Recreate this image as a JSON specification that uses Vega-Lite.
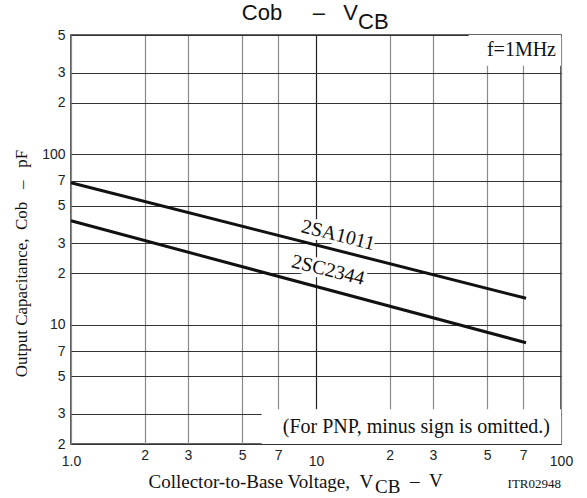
{
  "$schema": "https://vega.github.io/schema/vega-lite/v6.json",
  "width": 490,
  "height": 409,
  "autosize": {"type": "none"},
  "padding": {"left": 71, "top": 35, "right": 26, "bottom": 54},
  "background": "white",
  "config": {
    "view": {"stroke": "#333", "strokeWidth": 1.6},
    "axis": {
      "labelFont": "Liberation Sans",
      "labelFontSize": 14,
      "labelColor": "#222",
      "titleFont": "Liberation Serif",
      "titleFontWeight": "normal",
      "titleColor": "#111",
      "domain": false,
      "ticks": false
    }
  },
  "datasets": {
    "curves": [
      {"series": "2SA1011", "x": 1, "y": 68},
      {"series": "2SA1011", "x": 72, "y": 14.3},
      {"series": "2SC2344", "x": 1, "y": 40.7},
      {"series": "2SC2344", "x": 72, "y": 7.85}
    ],
    "boxes": [
      {"x": 42, "x2": 100, "y": 330, "y2": 500},
      {"x": 6, "x2": 100, "y": 2, "y2": 3.2}
    ],
    "curveLabels": [
      {"x": 12.3, "y": 33.5, "label": "2SA1011"},
      {"x": 11.2, "y": 20.9, "label": "2SC2344"}
    ],
    "freq": [{"x": 95.4, "y": 407, "label": "f=1MHz"}],
    "note": [{"x": 90.2, "y": 2.52, "label": "(For PNP, minus sign is omitted.)"}],
    "code": [{"x": 100, "y": 1.16, "label": "ITR02948"}],
    "titleMain": [{"x": 14.84, "y": 611, "label": "Cob\u00a0\u00a0\u00a0\u00a0\u00a0–\u00a0\u00a0\u00a0V"}],
    "titleSub": [{"x": 14.84, "y": 540, "label": "CB"}],
    "axisSub": [{"x": 17.41, "y": 1.03, "label": "CB"}],
    "axisUnit": [{"x": 24.19, "y": 1.119, "label": "–\u00a0\u00a0V"}]
  },
  "encoding": {
    "x": {
      "field": "x",
      "type": "quantitative",
      "scale": {"type": "log", "domain": [1, 100], "nice": false, "clamp": false},
      "axis": {
        "title": "Collector-to-Base Voltage,\u00a0\u00a0V",
        "titleFontSize": 19,
        "titleX": 77,
        "titleY": 43,
        "titleAlign": "left",
        "titleBaseline": "alphabetic",
        "values": [1, 2, 3, 5, 7, 10, 20, 30, 50, 70, 100],
        "labelExpr": "datum.value == 1 ? '1.0' : (datum.value == 10 || datum.value == 100) ? '' + datum.value : substring('' + datum.value, 0, 1)",
        "labelPadding": {"condition": {"test": "datum.value == 1 || datum.value == 10 || datum.value == 100", "value": 10}, "value": 4},
        "labelFlush": false,
        "labelOverlap": false,
        "grid": true,
        "gridColor": {"condition": {"test": "datum.value == 10", "value": "#222"}, "value": "#8a8a8a"},
        "gridWidth": 1.2
      }
    },
    "y": {
      "field": "y",
      "type": "quantitative",
      "scale": {"type": "log", "domain": [2, 500], "nice": false, "clamp": false},
      "axis": {
        "title": "Output Capacitance,\u00a0\u00a0Cob\u00a0\u00a0\u00a0–\u00a0\u00a0\u00a0pF",
        "titleFontSize": 17,
        "titleAngle": -90,
        "titleX": -45,
        "titleY": 228,
        "titleAlign": "center",
        "titleBaseline": "alphabetic",
        "values": [2, 3, 5, 7, 10, 20, 30, 50, 70, 100, 200, 300, 500],
        "labelExpr": "(datum.value == 10 || datum.value == 100) ? '' + datum.value : substring('' + datum.value, 0, 1)",
        "labelPadding": 6,
        "labelFlush": false,
        "labelOverlap": false,
        "grid": true,
        "gridColor": "#333",
        "gridWidth": 1.2
      }
    }
  },
  "layer": [
    {
      "data": {"name": "boxes"},
      "mark": {"type": "rect", "fill": "white", "stroke": null},
      "encoding": {
        "x2": {"field": "x2"},
        "y2": {"field": "y2"}
      }
    },
    {
      "data": {"name": "curveLabels"},
      "mark": {"type": "text", "font": "Liberation Serif", "fontSize": 20, "angle": 14, "align": "center", "baseline": "middle", "stroke": "white", "strokeWidth": 7, "fill": "white"},
      "encoding": {"text": {"field": "label"}}
    },
    {
      "data": {"name": "curves"},
      "mark": {"type": "line", "color": "#111", "strokeWidth": 3},
      "encoding": {"detail": {"field": "series"}}
    },
    {
      "data": {"name": "curveLabels"},
      "mark": {"type": "text", "font": "Liberation Serif", "fontSize": 20, "angle": 14, "align": "center", "baseline": "middle", "color": "#111"},
      "encoding": {"text": {"field": "label"}}
    },
    {
      "data": {"name": "freq"},
      "mark": {"type": "text", "font": "Liberation Serif", "fontSize": 20, "align": "right", "baseline": "middle", "color": "#111"},
      "encoding": {"text": {"field": "label"}}
    },
    {
      "data": {"name": "note"},
      "mark": {"type": "text", "font": "Liberation Serif", "fontSize": 20, "align": "right", "baseline": "middle", "color": "#111"},
      "encoding": {"text": {"field": "label"}}
    },
    {
      "data": {"name": "code"},
      "mark": {"type": "text", "font": "Liberation Serif", "fontSize": 13, "align": "right", "baseline": "middle", "color": "#111"},
      "encoding": {"text": {"field": "label"}}
    },
    {
      "data": {"name": "titleMain"},
      "mark": {"type": "text", "font": "Liberation Sans", "fontSize": 22, "align": "right", "baseline": "alphabetic", "color": "#111"},
      "encoding": {"text": {"field": "label"}}
    },
    {
      "data": {"name": "titleSub"},
      "mark": {"type": "text", "font": "Liberation Sans", "fontSize": 22, "align": "left", "baseline": "alphabetic", "color": "#111"},
      "encoding": {"text": {"field": "label"}}
    },
    {
      "data": {"name": "axisSub"},
      "mark": {"type": "text", "font": "Liberation Serif", "fontSize": 19, "align": "left", "baseline": "alphabetic", "color": "#111"},
      "encoding": {"text": {"field": "label"}}
    },
    {
      "data": {"name": "axisUnit"},
      "mark": {"type": "text", "font": "Liberation Serif", "fontSize": 19, "align": "left", "baseline": "alphabetic", "color": "#111"},
      "encoding": {"text": {"field": "label"}}
    }
  ]
}
